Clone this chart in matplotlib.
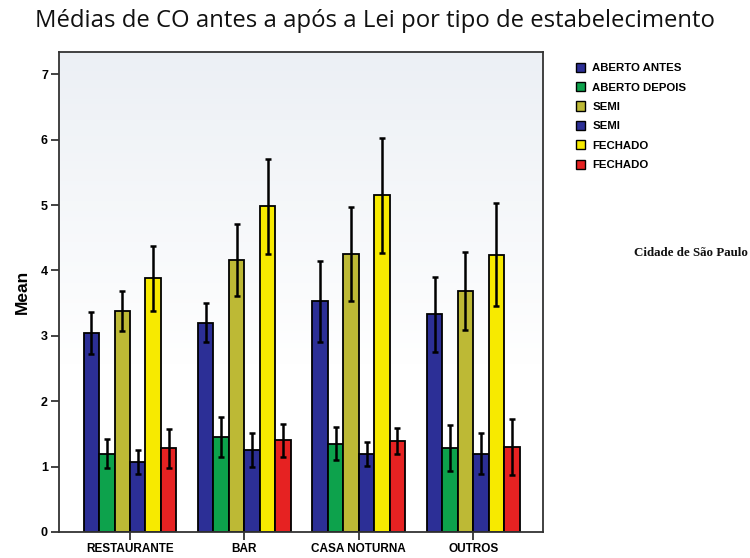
import numpy as np
import matplotlib
matplotlib.use('Agg')
import matplotlib.pyplot as plt
import matplotlib.patches as mpatches

# ── Data ──────────────────────────────────────────────────────────────────
categories = ['RESTAURANTE', 'BAR', 'CASA NOTURNA', 'OUTROS']
series_labels = ['ABERTO ANTES', 'ABERTO DEPOIS', 'SEMI', 'SEMI', 'FECHADO', 'FECHADO']
series_colors = ['#2c2f96', '#0da24c', '#bdb935', '#2c2f96', '#f7ea00', '#e62222']

aberto_antes  = [3.05, 3.20, 3.53, 3.33]
aberto_depois = [1.20, 1.45, 1.35, 1.28]
semi_antes    = [3.38, 4.16, 4.25, 3.69]
semi_depois   = [1.07, 1.25, 1.19, 1.20]
fechado_antes = [3.88, 4.98, 5.15, 4.24]
fechado_depois = [1.28, 1.40, 1.39, 1.30]

err_aberto_antes  = [0.32, 0.30, 0.62, 0.57]
err_aberto_depois = [0.22, 0.31, 0.25, 0.35]
err_semi_antes    = [0.30, 0.55, 0.72, 0.60]
err_semi_depois   = [0.18, 0.26, 0.18, 0.31]
err_fechado_antes = [0.50, 0.73, 0.88, 0.79]
err_fechado_depois = [0.30, 0.25, 0.20, 0.43]

means = [aberto_antes, aberto_depois, semi_antes, semi_depois, fechado_antes, fechado_depois]
errs = [err_aberto_antes, err_aberto_depois, err_semi_antes, err_semi_depois,
        err_fechado_antes, err_fechado_depois]

# ── Figure ────────────────────────────────────────────────────────────────
fig = plt.figure(figsize=(7.5, 5.58), dpi=100)
ax = fig.add_axes([0.0787, 0.0466, 0.6453, 0.860])

x = np.arange(len(categories))
n = len(means)
width = 0.135

# light background gradient (grey-blue at top, white at the bottom)
grad = np.linspace(0, 1, 256).reshape(-1, 1)
top_c = np.array([0.925, 0.940, 0.960])
bot_c = np.array([1.0, 1.0, 1.0])
w = np.clip((grad - 0.35) / 0.65, 0, 1)
bg = bot_c * (1 - w[..., None]) + top_c * w[..., None]
ax.imshow(bg, extent=[-0.62, 3.61, 0, 7.34], aspect='auto', origin='lower', zorder=0)

for i in range(n):
    offs = (i - (n - 1) / 2) * width
    ax.bar(x + offs, means[i], width=width, color=series_colors[i],
           edgecolor='black', linewidth=1.3, zorder=2)
    ax.errorbar(x + offs, means[i], yerr=errs[i], fmt='none', ecolor='black',
                elinewidth=1.8, capsize=2.2, capthick=1.8, zorder=3)

ax.set_xlim(-0.62, 3.61)
ax.set_ylim(0, 7.34)
ax.set_yticks(range(0, 8))
ax.set_xticks(x)
ax.set_xticklabels(categories, fontsize=8.5, fontweight='bold', family='Liberation Sans')
for lab in ax.get_yticklabels():
    lab.set_fontsize(9)
    lab.set_fontweight('bold')
    lab.set_family('Liberation Sans')
ax.tick_params(axis='both', direction='out', length=6, width=1.2, color='#222222', pad=2)
for s in ax.spines.values():
    s.set_linewidth(1.3)
    s.set_color('#333333')

ax.set_ylabel('Mean', fontsize=12.5, fontweight='bold', family='Liberation Sans', labelpad=8)

fig.text(0.047, 0.963, 'Médias de CO antes a após a Lei por tipo de estabelecimento',
         fontsize=17.2, family='Open Sans', ha='left', va='center', color='#111111')

patches = [mpatches.Patch(facecolor=c, edgecolor='black', linewidth=1.0, label=l)
           for c, l in zip(series_colors, series_labels)]
fig.legend(handles=patches, loc='upper left', bbox_to_anchor=(0.754, 0.906),
           frameon=False, prop={'family': 'Liberation Sans', 'weight': 'bold', 'size': 8.2},
           handlelength=0.85, handleheight=0.85, handletextpad=0.6, labelspacing=0.78)

fig.text(0.997, 0.546, 'Cidade de São Paulo', fontsize=9.4, fontweight='bold',
         family='Liberation Serif', ha='right', va='center', color='#111111')

plt.savefig('out.png', dpi=100)
plt.close()
